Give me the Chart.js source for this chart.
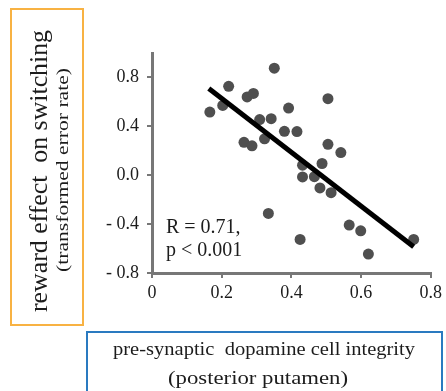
<!DOCTYPE html>
<html>
<head>
<meta charset="utf-8">
<script src="https://cdn.jsdelivr.net/npm/chart.js@4"></script>
<style>
html, body { margin: 0; padding: 0; background: #fff; }
</style>
</head>
<body>
<canvas id="myChart" width="446" height="391"></canvas>
<script>
// dopamine cell integrity (x) vs reward effect on switching (y)
const integrity = [0.166, 0.203, 0.220, 0.273, 0.291, 0.351, 0.309, 0.342, 0.392, 0.380,
    0.416, 0.323, 0.264, 0.287, 0.505, 0.505, 0.542, 0.432, 0.488, 0.432,
    0.466, 0.482, 0.514, 0.566, 0.599, 0.425, 0.334, 0.621, 0.751];
const rewardEffect = [0.517, 0.571, 0.727, 0.641, 0.669, 0.876, 0.455, 0.463, 0.549, 0.359,
    0.357, 0.298, 0.269, 0.241, 0.626, 0.253, 0.185, 0.082, 0.096, -0.014,
    -0.012, -0.104, -0.143, -0.408, -0.455, -0.525, -0.313, -0.645, -0.525];

// regression line end points
const fitX = [0.163, 0.751];
const fitY = [0.71, -0.585];

const xTicks = [0, 0.2, 0.4, 0.6, 0.8];
const xTickLabels = ['0', '0.2', '0.4', '0.6', '0.8'];
const yTicks = [-0.8, -0.4, 0, 0.4, 0.8];
const yTickLabels = ['- 0.8', '- 0.4', '0.0', '0.4', '0.8'];

const yTitle = ['reward effect  on switching', '(transformed error rate)'];
const xTitle = ['pre-synaptic  dopamine cell integrity', '(posterior putamen)'];
const statText = ['R = 0.71,', 'p < 0.001'];

const SERIF = '"Liberation Serif", "Times New Roman", serif';

// draw text stretched to a given length
function fitText(ctx, txt, x, y, size, len, rotated) {
    ctx.save();
    ctx.font = size + 'px ' + SERIF;
    ctx.textAlign = 'center';
    ctx.textBaseline = 'alphabetic';
    ctx.translate(x, y);
    if (rotated) ctx.rotate(-Math.PI / 2);
    const w = ctx.measureText(txt).width;
    ctx.scale(len / w, 1);
    ctx.fillText(txt, 0, 0);
    ctx.restore();
}

const decor = {
    id: 'decor',
    afterDraw(chart) {
        const ctx = chart.ctx;
        const xs = chart.scales.x, ys = chart.scales.y;
        ctx.save();
        ctx.lineWidth = 2;
        ctx.strokeStyle = '#F8B243';
        ctx.strokeRect(11, 9, 72, 316);
        ctx.strokeStyle = '#2A7AC0';
        ctx.strokeRect(87, 332, 355, 80);

        ctx.fillStyle = '#1c1c1c';
        fitText(ctx, yTitle[0], 47, 171, 25, 282, true);
        fitText(ctx, yTitle[1], 68, 170, 17, 204, true);
        fitText(ctx, xTitle[0], 264, 355, 19, 302, false);
        fitText(ctx, xTitle[1], 258, 384, 19, 180, false);

        ctx.font = '20px ' + SERIF;
        ctx.textAlign = 'left';
        ctx.textBaseline = 'alphabetic';
        const sx = xs.getPixelForValue(0.04);
        ctx.fillText(statText[0], sx, ys.getPixelForValue(-0.473));
        ctx.fillText(statText[1], sx, ys.getPixelForValue(-0.661));
        ctx.restore();
    }
};

const axisColor = '#777777';

new Chart(document.getElementById('myChart'), {
    type: 'scatter',
    data: {
        datasets: [{
            type: 'line',
            data: fitX.map((x, i) => ({ x: x, y: fitY[i] })),
            borderColor: '#000000',
            borderWidth: 5,
            pointRadius: 0,
            fill: false
        }, {
            data: integrity.map((x, i) => ({ x: x, y: rewardEffect[i] })),
            backgroundColor: '#4f4f4f',
            borderWidth: 0,
            pointRadius: 5.5,
            pointHoverRadius: 5.5
        }]
    },
    plugins: [decor],
    options: {
        responsive: false,
        animation: false,
        events: [],
        layout: { padding: { left: 90, top: 53, right: 14, bottom: 88 } },
        plugins: { legend: { display: false }, tooltip: { enabled: false } },
        scales: {
            x: {
                type: 'linear',
                min: 0,
                max: 0.8,
                afterBuildTicks: s => { s.ticks = xTicks.map(v => ({ value: v })); },
                afterFit: s => { s.height = 30; },
                ticks: {
                    callback: (v, i) => xTickLabels[i],
                    font: { family: SERIF, size: 18 },
                    color: '#1c1c1c',
                    padding: 4,
                    maxRotation: 0
                },
                grid: { drawOnChartArea: false, tickLength: 5, color: axisColor, lineWidth: 2 },
                border: { color: axisColor, width: 3 }
            },
            y: {
                type: 'linear',
                min: -0.8,
                max: 1.0,
                afterBuildTicks: s => { s.ticks = yTicks.map(v => ({ value: v })); },
                afterFit: s => { s.width = 62; },
                ticks: {
                    callback: (v, i) => yTickLabels[i],
                    font: { family: SERIF, size: 18 },
                    color: '#1c1c1c',
                    padding: 8
                },
                grid: { drawOnChartArea: false, tickLength: 5, color: axisColor, lineWidth: 2 },
                border: { color: axisColor, width: 3 }
            }
        }
    }
});
</script>
</body>
</html>
